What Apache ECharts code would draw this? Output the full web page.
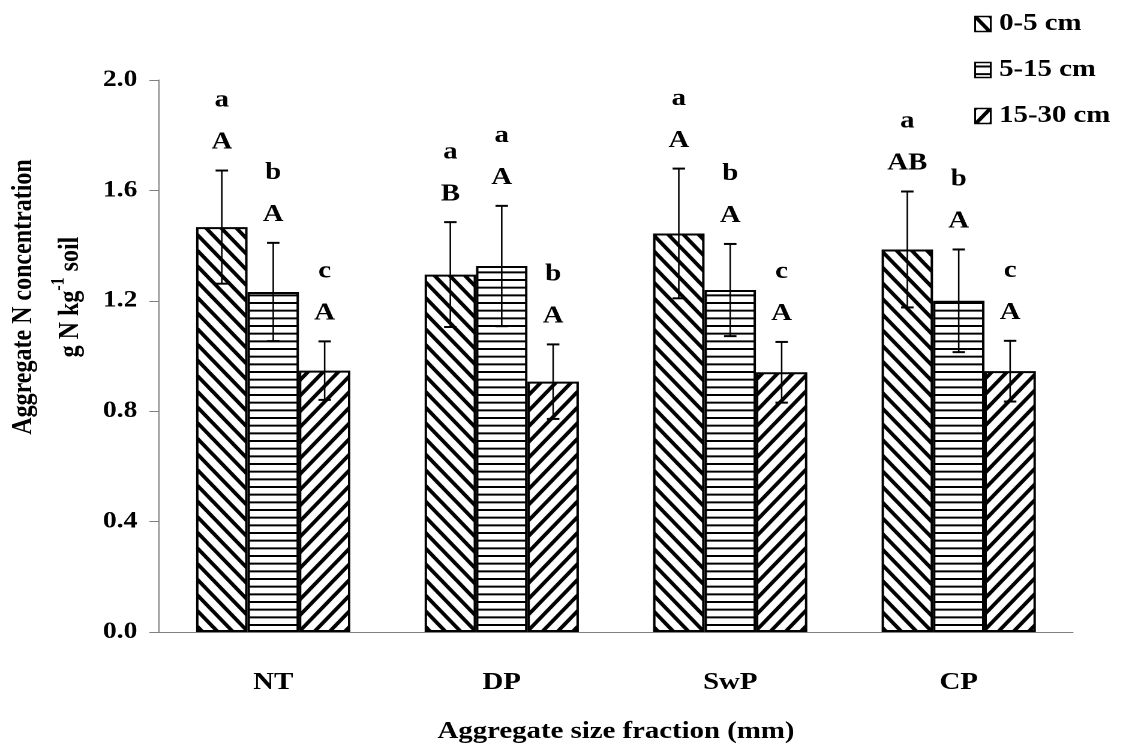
<!DOCTYPE html>
<html>
<head>
<meta charset="utf-8">
<script src="https://cdn.jsdelivr.net/npm/echarts@6/dist/echarts.min.js"></script>
<style>
html,body{margin:0;padding:0;background:#fff;overflow:hidden;}
#chart{width:936px;height:749px;transform:scaleX(1.19979);transform-origin:0 0;}
</style>
</head>
<body>
<div id="chart"></div>
<script>
// ---- data ----
var categories = ['NT', 'DP', 'SwP', 'CP'];
var depths = ['0-5 cm', '5-15 cm', '15-30 cm'];
var mean0_5 = [1.467, 1.295, 1.444, 1.386];
var mean5_15 = [1.232, 1.326, 1.239, 1.200];
var mean15_30 = [0.947, 0.907, 0.941, 0.945];
var err0_5 = [0.205, 0.190, 0.235, 0.210];
var err5_15 = [0.178, 0.218, 0.167, 0.186];
var err15_30 = [0.106, 0.135, 0.110, 0.110];
var upper0_5 = ['A', 'B', 'A', 'AB'];
var upper5_15 = ['A', 'A', 'A', 'A'];
var upper15_30 = ['A', 'A', 'A', 'A'];
var lower0_5 = ['a', 'a', 'a', 'a'];
var lower5_15 = ['b', 'a', 'b', 'b'];
var lower15_30 = ['c', 'b', 'c', 'c'];
var yTicks = [0, 0.4, 0.8, 1.2, 1.6, 2.0];

var means = [mean0_5, mean5_15, mean15_30];
var errs = [err0_5, err5_15, err15_30];
var uppers = [upper0_5, upper5_15, upper15_30];
var lowers = [lower0_5, lower5_15, lower15_30];

var FONT = '"Liberation Serif", "Times New Roman", serif';
var GAP = 0.325;

function makePattern(kind) {
  var k = 3, w, h;
  if (kind === 'h') { w = 4; h = 7.6; }
  else { w = 12.8; h = 15.5; }
  var cw = Math.round(w * k), ch = Math.round(h * k);
  var cv = document.createElement('canvas');
  cv.width = cw; cv.height = ch;
  var ctx = cv.getContext('2d');
  ctx.fillStyle = '#fff';
  ctx.fillRect(0, 0, cw, ch);
  ctx.fillStyle = '#000';
  ctx.strokeStyle = '#000';
  if (kind === 'h') {
    ctx.fillRect(0, Math.round(ch / 2 - k), cw, Math.round(2 * k));
  } else {
    ctx.lineWidth = 3.4 * k;
    for (var i = -2; i <= 2; i++) {
      ctx.beginPath();
      if (kind === 'b') { // "\" direction
        ctx.moveTo(i * cw - cw, -ch);
        ctx.lineTo(i * cw + 2 * cw, 2 * ch);
      } else { // "/" direction
        ctx.moveTo(i * cw - cw, 2 * ch);
        ctx.lineTo(i * cw + 2 * cw, -ch);
      }
      ctx.stroke();
    }
  }
  return { image: cv, repeat: 'repeat', scaleX: 1 / k, scaleY: 1 / k };
}
var patterns = [makePattern('b'), makePattern('h'), makePattern('f')];

var series = [];
for (var s = 0; s < 3; s++) {
  series.push({
    name: depths[s],
    type: 'bar',
    data: means[s],
    barGap: '0%',
    barCategoryGap: (GAP * 100) + '%',
    itemStyle: { color: patterns[s], borderColor: '#000', borderWidth: 2 },
    emphasis: { disabled: true },
    animation: false
  });
}

var errData = [];
var errMeta = [];
for (var s2 = 0; s2 < 3; s2++) {
  for (var c = 0; c < categories.length; c++) {
    errData.push([c, s2, means[s2][c], errs[s2][c]]);
    errMeta.push({ up: uppers[s2][c], low: lowers[s2][c] });
  }
}

series.push({
  type: 'custom',
  data: errData,
  encode: { x: 0, y: 2 },
  z: 10,
  silent: true,
  animation: false,
  renderItem: function (params, api) {
    var c = api.value(0), s = api.value(1), m = api.value(2), e = api.value(3);
    var band = api.size([1, 0])[0];
    var bw = band * (1 - GAP) / 3;
    var cx = api.coord([c, m])[0] + (s - 1) * bw;
    var yTop = api.coord([c, m + e])[1];
    var yBot = api.coord([c, m - e])[1];
    var cap = 5.2;
    var meta = errMeta[params.dataIndex];
    var tf = 'bold 24px ' + FONT;
    return {
      type: 'group',
      children: [
        { type: 'line', shape: { x1: cx, y1: yTop, x2: cx, y2: yBot }, style: { stroke: '#000', lineWidth: 1.3 } },
        { type: 'line', shape: { x1: cx - cap, y1: yTop, x2: cx + cap, y2: yTop }, style: { stroke: '#000', lineWidth: 2 } },
        { type: 'line', shape: { x1: cx - cap, y1: yBot, x2: cx + cap, y2: yBot }, style: { stroke: '#000', lineWidth: 2 } },
        { type: 'text', x: cx, y: yTop - 28, style: { text: meta.up, font: tf, fill: '#000', align: 'center', verticalAlign: 'middle' } },
        { type: 'text', x: cx, y: yTop - 70, style: { text: meta.low, font: tf, fill: '#000', align: 'center', verticalAlign: 'middle' } }
      ]
    };
  }
});

var axisCol = '#808080';
var chart = echarts.init(document.getElementById('chart'), null, { devicePixelRatio: 2, renderer: 'canvas' });
chart.setOption({
  animation: false,
  backgroundColor: '#fff',
  grid: { left: 132.5, right: 41.7, top: 80, bottom: 115 },
  legend: {
    data: depths.map(function (d) { return { name: d, icon: 'rect' }; }),
    orient: 'vertical',
    left: 807,
    top: 7,
    itemWidth: 13,
    itemHeight: 15,
    itemGap: 22,
    selectedMode: false,
    itemStyle: { borderColor: '#000', borderWidth: 1.5 },
    textStyle: { fontFamily: FONT, fontWeight: 'bold', fontSize: 24, color: '#000', padding: [0, 0, 0, 2] }
  },
  xAxis: {
    type: 'category',
    data: categories,
    axisLine: { lineStyle: { color: axisCol, width: 1 } },
    axisTick: { length: 9, lineStyle: { color: axisCol, width: 1 } },
    axisLabel: { margin: 39, fontFamily: FONT, fontWeight: 'bold', fontSize: 24, color: '#000' },
    name: 'Aggregate size fraction (mm)',
    nameLocation: 'middle',
    nameGap: 88,
    nameTextStyle: { fontFamily: FONT, fontWeight: 'bold', fontSize: 24, color: '#000' }
  },
  yAxis: {
    type: 'value',
    min: yTicks[0],
    max: yTicks[yTicks.length - 1],
    interval: yTicks[1] - yTicks[0],
    splitLine: { show: false },
    axisLine: { show: true, lineStyle: { color: axisCol, width: 1 } },
    axisTick: { show: true, length: 8, lineStyle: { color: axisCol, width: 1 } },
    axisLabel: { margin: 18, fontFamily: FONT, fontWeight: 'bold', fontSize: 23, color: '#000',
      formatter: function (v) { return v.toFixed(1); } }
  },
  graphic: [
    { type: 'text', x: 20, y: 297, rotation: Math.PI / 2,
      style: { text: 'Aggregate N concentration', font: 'bold 24px ' + FONT, fill: '#000', align: 'center', verticalAlign: 'middle' } },
    { type: 'text', x: 56, y: 297, rotation: Math.PI / 2,
      style: { text: '{n|g N kg}{s|-1}{n| soil}', align: 'center', verticalAlign: 'middle',
        rich: {
          n: { fontFamily: FONT, fontWeight: 'bold', fontSize: 24, fill: '#000', color: '#000', lineHeight: 30, verticalAlign: 'bottom' },
          s: { fontFamily: FONT, fontWeight: 'bold', fontSize: 16, fill: '#000', color: '#000', lineHeight: 16, verticalAlign: 'top' }
        } } }
  ],
  series: series
});
</script>
</body>
</html>
